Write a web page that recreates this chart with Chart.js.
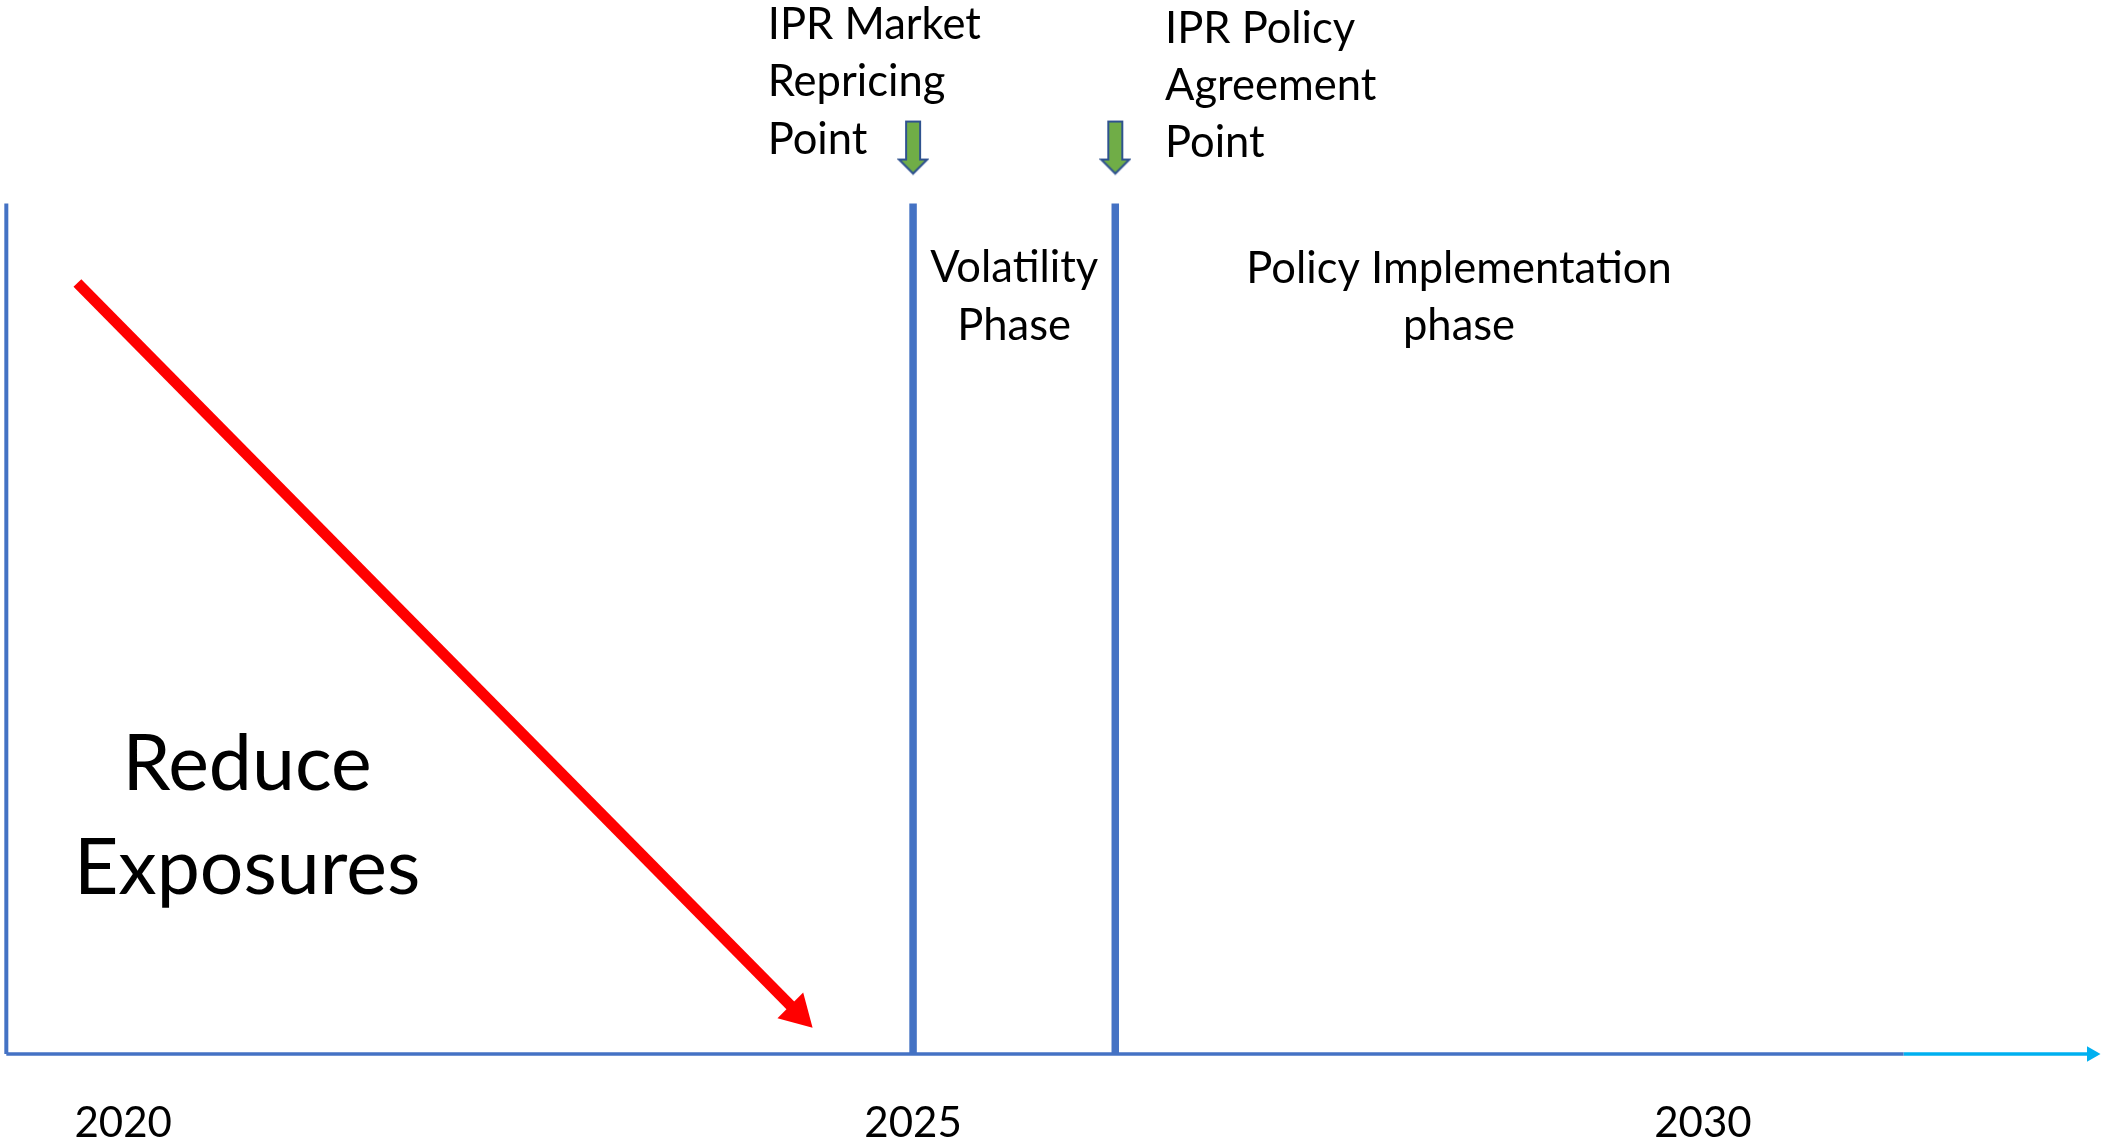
<!DOCTYPE html>
<html>
<head>
<meta charset="utf-8">
<script src="https://cdn.jsdelivr.net/npm/chart.js@4.4.1/dist/chart.umd.min.js"></script>
<style>
  html, body { margin: 0; padding: 0; background: #ffffff; }
  #wrap { width: 2101px; height: 1145px; position: relative; }
</style>
</head>
<body>
<div id="wrap"><canvas id="c"></canvas></div>
<script>
// ---- data (years on x, relative level 0..100 on y) ----
const tickYears = [2020, 2025, 2030];
const milestoneYears = [2025.0, 2026.28];          // IPR Market Repricing Point, IPR Policy Agreement Point
const milestoneNames = ['IPR Market Repricing Point', 'IPR Policy Agreement Point'];
const axisYears = [2019.26, 2031.27, 2032.46];     // axis start, end of dark segment, arrow end
const phaseLineTop = [80.7];                      // height of the vertical phase lines
const markerLevel = [86];                         // level of the green milestone markers
const trendYears = [2019.71, 2024.27];            // "Reduce Exposures" arrow
const trendLevels = [73.15, 3.9];

// ---- layout / style (not data) ----
const FONT = 'Lato';
const BLUE = '#4472C4';
const CYAN = '#00B0F0';
const RED = '#FF0000';
const X_MIN = 2019.22, X_MAX = 2032.52;

const notes = [
  { lines: ['IPR Market', 'Repricing', 'Point'], x: 2024.08, y: 96.3, align: 'left', size: 43.5, step: 57.5 },
  { lines: ['IPR Policy', 'Agreement', 'Point'], x: 2026.595, y: 95.92, align: 'left', size: 43.5, step: 57 },
  { lines: ['Volatility', 'Phase'], x: (milestoneYears[0] + milestoneYears[1]) / 2, y: 73.24, align: 'center', size: 43.5, step: 57.5 },
  { lines: ['Policy Implementation', 'phase'], x: 2028.456, y: 73.15, align: 'center', size: 43.5, step: 57.5 },
  { lines: ['Reduce', 'Exposures'], x: 2020.784, y: 25.05, align: 'center', size: 77, step: 104 }
];

function makeMarker() {
  const c = document.createElement('canvas');
  c.width = 32; c.height = 56;
  const g = c.getContext('2d');
  g.beginPath();
  g.moveTo(9, 2); g.lineTo(23, 2); g.lineTo(23, 40); g.lineTo(30, 40);
  g.lineTo(16, 54); g.lineTo(2, 40); g.lineTo(9, 40); g.closePath();
  g.fillStyle = '#70AD47'; g.fill();
  g.lineWidth = 2; g.strokeStyle = '#2F528F'; g.lineJoin = 'miter'; g.stroke();
  return c;
}
const marker = makeMarker();

const notesPlugin = {
  id: 'notes',
  afterDraw(chart) {
    const { ctx, scales: { x, y } } = chart;
    ctx.save();
    ctx.fillStyle = '#000000';
    ctx.textBaseline = 'alphabetic';
    notes.forEach(n => {
      ctx.font = n.size + 'px ' + FONT;
      ctx.textAlign = n.align;
      const px = x.getPixelForValue(n.x);
      const py = y.getPixelForValue(n.y);
      n.lines.forEach((t, i) => ctx.fillText(t, px, py + i * n.step));
    });
    ctx.restore();
  }
};

const vLine = (yr) => [{ x: yr, y: 0 }, { x: yr, y: phaseLineTop[0] }];

new Chart(document.getElementById('c'), {
  type: 'line',
  data: {
    datasets: [
      { label: 'axis-left', data: vLine(axisYears[0]), borderColor: BLUE, borderWidth: 4, pointRadius: 0, clip: false },
      { label: 'axis-base', data: [{ x: axisYears[0], y: 0 }, { x: axisYears[1], y: 0 }], borderColor: BLUE, borderWidth: 3.5, pointRadius: 0, clip: false },
      { label: 'axis-arrow', data: [{ x: axisYears[1], y: 0 }, { x: axisYears[2], y: 0 }], borderColor: CYAN, borderWidth: 3.5,
        pointRadius: [0, 9], pointStyle: 'triangle', pointRotation: 90, pointBackgroundColor: CYAN, pointBorderWidth: 0, clip: false },
      { label: milestoneNames[0], data: vLine(milestoneYears[0]), borderColor: BLUE, borderWidth: 7.5, pointRadius: 0, clip: false },
      { label: milestoneNames[1], data: vLine(milestoneYears[1]), borderColor: BLUE, borderWidth: 7.5, pointRadius: 0, clip: false },
      { label: 'Reduce Exposures', data: trendYears.map((v, i) => ({ x: v, y: trendLevels[i] })), borderColor: RED, borderWidth: 11,
        borderCapStyle: 'butt', pointRadius: [0, 21], pointStyle: 'triangle', pointRotation: 135, pointBackgroundColor: RED, pointBorderWidth: 0, clip: false },
      { label: 'markers', data: milestoneYears.map(v => ({ x: v, y: markerLevel[0] })), showLine: false,
        pointStyle: marker, pointRadius: 10, clip: false }
    ]
  },
  options: {
    responsive: true,
    maintainAspectRatio: false,
    animation: false,
    events: [],
    layout: { padding: 0, autoPadding: false },
    plugins: { legend: { display: false }, tooltip: { enabled: false } },
    scales: {
      x: {
        type: 'linear', min: X_MIN, max: X_MAX, position: 'bottom',
        grid: { display: false, drawTicks: false },
        border: { display: false },
        ticks: { font: { family: FONT, size: 42 }, color: '#000000', padding: 44, autoSkip: false, maxRotation: 0,
                 callback: v => String(v) },
        afterBuildTicks: s => { s.ticks = tickYears.map(v => ({ value: v })); },
        afterFit: s => { s.height = 91; }
      },
      y: { min: 0, max: 100, display: false }
    }
  },
  plugins: [notesPlugin]
});
</script>
</body>
</html>
